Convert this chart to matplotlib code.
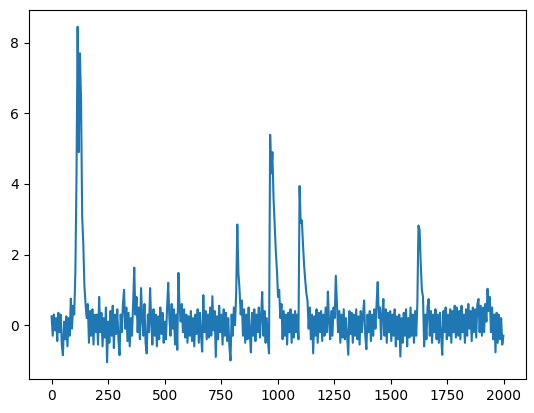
import numpy as np
import matplotlib
matplotlib.use('Agg')
import matplotlib.pyplot as plt

# signal, one value every 5 samples (0 .. 1999)
seg_0000 = [0.25, -0.3, 0.3, -0.15, 0.2, -0.45, 0.35, -0.2, 0.3, -0.55,
            -0.85, 0.1, -0.4, 0.25, -0.6, 0.2, -0.3, 0.75, -0.1, 0.55]
seg_0100 = [0.3, 1.5, 4.2, 8.45, 4.9, 7.7, 6.4, 3.1, 2.3, 1.1,
            0.6, 0.2, 0.6, -0.5, 0.4, -0.3, 0.45, -0.55, 0.3, -0.2]
seg_0200 = [0.3, -0.55, 0.8, -0.2, 0.35, -0.6, 0.2, -0.35, 0.5, -1.05,
            0.1, -0.5, 0.4, -0.3, 0.55, -0.65, 0.3, -0.25, 0.45, -0.4]
seg_0300 = [-0.85, 0.3, -0.2, 0.6, 1.0, -0.1, 0.5, -0.45, 0.35, -0.6,
            0.2, -0.3, 0.6, 1.63, 0.3, 0.8, -0.2, 0.5, -0.4, 1.05]
seg_0400 = [0.2, -0.3, 0.6, -0.5, -0.8, 0.3, -0.2, 1.05, 0.1, -0.55,
            0.45, -0.3, 0.3, -0.6, 0.25, -0.4, 0.5, -0.25, 0.35, -0.5]
seg_0500 = [0.1, -0.4, 0.5, 1.2, 0.2, -0.3, 0.6, -0.1, 0.45, -0.55,
            0.3, -0.7, 1.48, 0.5, 0.1, 0.6, -0.2, 0.45, -0.35, 0.3]
seg_0600 = [-0.5, 0.25, -0.3, 0.4, -0.45, 0.2, -0.6, 0.3, -0.25, 0.45,
            -0.5, 0.35, -0.3, -0.75, 0.85, -0.2, 0.4, -0.4, 0.3, -0.35]
seg_0700 = [0.5, -0.3, 0.82, -0.15, 0.4, -0.9, 0.25, -0.4, 0.55, -0.2,
            0.3, -0.55, 0.45, -0.3, 0.35, -0.45, 0.2, -0.6, -1.0, 0.3]
seg_0800 = [-0.3, 0.5, 0.0, 0.9, 2.85, 1.47, 1.0, 0.3, 0.7, -0.3,
            0.45, -0.5, 0.3, -0.4, 0.5, -0.2, -0.77, 0.35, -0.3, 0.45]
seg_0900 = [-0.45, 0.3, -0.2, 0.5, -0.35, 0.25, 0.94, -0.3, 0.4, -0.5,
            0.2, -0.4, -0.8, 5.39, 4.3, 4.9, 3.6, 2.88, 2.1, 1.55]
seg_1000 = [0.8, 1.0, 0.2, 0.6, -0.4, 0.4, -0.3, 0.3, -0.55, 0.35,
            -0.2, 0.45, -0.5, 0.3, -0.35, 0.4, -0.2, 0.3, -0.4, 3.94]
seg_1100 = [2.9, 2.97, 2.3, 1.7, 1.27, 0.9, 0.7, -0.1, 0.5, -0.4,
            0.3, -0.8, 0.25, -0.3, 0.45, -0.5, 0.35, -0.2, 0.4, -0.45]
seg_1200 = [0.3, -0.3, 0.5, -0.2, 0.95, 0.1, -0.4, 0.4, -0.3, 0.5,
            0.2, 1.4, 0.6, -0.2, 0.4, -0.5, 0.3, -0.35, 0.45, -0.4]
seg_1300 = [0.2, -0.3, -0.84, 0.4, -0.25, 0.35, -0.5, 0.3, -0.3, 0.45,
            -0.4, 0.25, -0.55, 0.4, -0.2, 0.3, 0.7, -0.3, -0.68, 0.3]
seg_1400 = [-0.2, 0.4, -0.45, 0.3, -0.3, 0.45, -0.1, 0.6, 1.22, 0.2,
            0.5, -0.4, 0.3, 0.74, -0.3, 0.45, -0.5, 0.35, -0.2, 0.4]
seg_1500 = [-0.45, 0.3, -0.3, 0.45, -0.6, 0.25, -0.4, 0.3, -0.89, 0.2,
            -0.5, 0.35, -0.3, 0.45, -0.6, 0.2, -0.35, 0.5, -0.3, 0.3]
seg_1600 = [-0.5, 0.4, -0.3, 0.6, 2.82, 2.7, 1.74, 1.0, 0.8, -0.6,
            0.3, -0.4, 0.5, 0.74, -0.3, 0.4, -0.5, 0.3, -0.2, 0.45]
seg_1700 = [-0.4, 0.3, -0.5, 0.35, -0.3, -0.84, 0.4, -0.2, 0.5, -0.4,
            0.3, -0.3, 0.45, -0.5, 0.4, -0.2, 0.55, -0.35, 0.5, -0.3]
seg_1800 = [0.4, -0.4, 0.55, -0.2, 0.3, -0.5, 0.45, -0.3, 0.6, -0.1,
            0.4, -0.45, 0.5, -0.2, 0.45, -0.35, 0.6, 0.74, -0.2, 0.55]
seg_1900 = [-0.3, 0.5, -0.2, 0.6, 0.1, 1.03, 0.4, 0.8, -0.2, 0.5,
            -0.4, 0.3, -0.77, 0.35, -0.5, 0.3, -0.4, 0.2, -0.55, -0.3]

signal = (seg_0000 + seg_0100 + seg_0200 + seg_0300 + seg_0400 +
          seg_0500 + seg_0600 + seg_0700 + seg_0800 + seg_0900 +
          seg_1000 + seg_1100 + seg_1200 + seg_1300 + seg_1400 +
          seg_1500 + seg_1600 + seg_1700 + seg_1800 + seg_1900)
t = np.linspace(0, 1999, len(signal))

fig = plt.figure(figsize=(5.34, 4.13), dpi=100)
ax = fig.add_axes([0.0543, 0.0823, 0.9307, 0.8935])
ax.plot(t, signal)

fig.savefig('out.png', dpi=100)
